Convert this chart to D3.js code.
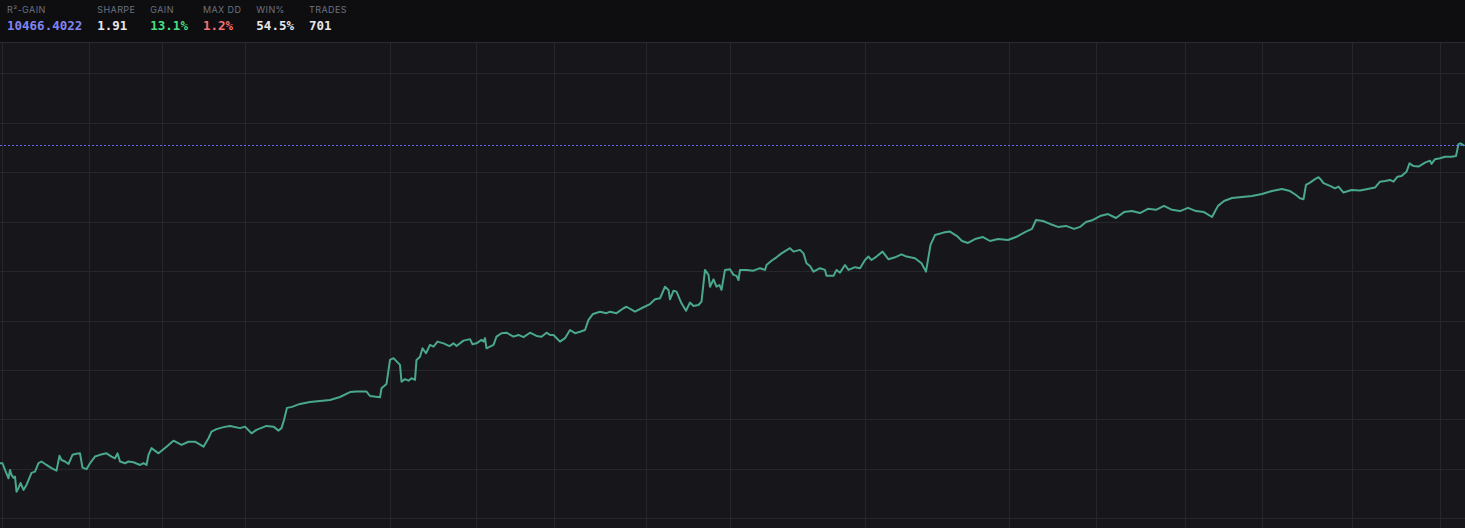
<!DOCTYPE html>
<html>
<head>
<meta charset="utf-8">
<script src="https://cdn.jsdelivr.net/npm/d3@7/dist/d3.min.js"></script>
<style>
  html, body { margin: 0; padding: 0; background: #16161b; overflow: hidden; }
  svg { display: block; }
</style>
</head>
<body>
<svg id="chart" width="1465" height="528"></svg>
<script>
// ---- header stats ----
const statLabels = ["R²-GAIN", "SHARPE", "GAIN", "MAX DD", "WIN%", "TRADES"];
const statValues = ["10466.4022", "1.91", "13.1%", "1.2%", "54.5%", "701"];
const statColors = ["#8184f0", "#e6e7ea", "#4ade80", "#f87171", "#e6e7ea", "#e6e7ea"];

// ---- equity curve: day index vs cumulative gain (%) ----
const days = [0,0.5,1.0,1.7,2.0,2.3,2.7,3.0,3.3,3.7,4.1,4.7,5.3,6.3,7.0,7.7,8.3,9.3,10.3,11.3,11.9,12.3,13.0,13.7,14.5,15.3,16.0,16.5,17.3,18.0,19.0,20.0,21.3,22.3,23.0,23.5,24.0,25.0,25.7,26.7,28.0,28.7,29.3,29.7,30.3,31.7,33.3,34.7,36.3,37.7,39.0,40.7,41.7,42.3,43.3,44.7,46.0,48.0,49.0,50.3,51.3,53.3,54.7,55.7,56.3,56.8,57.4,58.4,60.0,62.0,64.0,66.0,68.0,70.0,71.3,73.3,74.0,76.0,76.3,77.3,78.0,78.7,80.0,80.3,81.0,81.7,82.3,83.0,83.3,84.0,84.5,85.2,86.0,86.7,87.5,88.7,89.9,90.7,91.3,92.7,94.0,94.5,95.3,96.3,96.7,97.0,97.3,98.0,98.7,99.3,100.3,101.3,102.7,103.7,104.7,106.0,107.3,108.3,109.3,110.0,110.7,112.0,113.0,114.0,115.0,116.0,117.0,117.7,118.6,120.0,121.3,122.0,123.3,124.7,125.3,127.0,128.7,130.0,131.0,132.0,133.0,133.7,134.0,134.7,135.3,136.3,137.2,138.0,138.7,139.7,140.3,141.0,141.7,142.0,142.7,143.3,143.9,144.3,145.0,146.0,146.7,147.3,147.7,148.0,149.3,150.7,152.0,153.0,153.3,154.3,155.3,156.3,158.0,158.7,160.0,160.7,161.3,162.0,162.7,164.0,165.0,165.3,166.7,167.3,168.0,169.0,169.7,171.0,172.0,173.0,173.7,174.3,175.3,176.5,177.7,179.0,180.3,181.3,183.0,184.3,185.2,186.1,187.0,188.7,190.0,191.4,192.4,193.6,195.0,196.6,198.0,199.6,201.6,203.2,205.0,206.4,207.2,208.6,210.0,211.6,213.2,214.8,216.0,217.2,218.6,220.0,221.6,223.2,224.8,226.4,228.0,229.6,231.2,232.8,234.4,236.0,237.6,239.2,240.8,242.4,243.6,244.8,246.4,248.4,250.4,252.4,254.4,256.4,258.0,259.2,260.0,260.7,261.2,262.0,263.0,263.7,264.1,264.7,266.0,267.0,267.7,268.7,270.3,272.0,273.3,275.0,276.0,277.0,278.0,278.7,279.5,280.3,281.3,281.9,282.7,283.7,285.0,286.0,286.3,287.0,288.0,289.0,290.3,291.2,291.7,292.1,292.7];
const gain = [0.23,0.23,-0.04,-0.38,-0.04,-0.24,-0.36,-0.31,-0.92,-0.77,-0.57,-0.85,-0.65,-0.16,-0.11,0.23,0.30,0.16,0.03,-0.07,0.53,0.36,0.30,0.20,0.57,0.61,0.63,0.05,-0.01,0.23,0.50,0.57,0.63,0.50,0.43,0.63,0.30,0.23,0.30,0.27,0.16,0.23,0.16,0.57,0.84,0.63,0.90,1.14,0.97,1.10,1.10,0.90,1.24,1.51,1.61,1.69,1.74,1.65,1.71,1.44,1.58,1.74,1.71,1.55,1.65,1.98,2.47,2.51,2.63,2.71,2.75,2.79,2.91,3.11,3.13,3.13,2.95,2.90,3.26,3.44,4.41,4.48,4.21,3.53,3.63,3.57,3.67,3.60,4.41,4.54,4.88,4.68,5.02,4.95,5.15,5.08,4.97,5.08,4.97,5.19,5.25,5.04,5.08,5.22,5.15,5.29,4.88,4.95,5.02,5.35,5.49,5.51,5.35,5.42,5.33,5.51,5.38,5.35,5.51,5.42,5.42,5.15,5.29,5.62,5.49,5.55,5.62,6.03,6.27,6.36,6.30,6.36,6.30,6.50,6.56,6.36,6.54,6.67,6.86,6.90,7.37,7.24,6.86,7.21,7.17,6.70,6.40,6.73,6.59,6.63,6.77,8.05,7.85,7.37,7.67,7.37,7.44,7.24,8.05,8.08,7.85,7.81,7.64,8.05,8.05,8.02,8.12,8.05,8.25,8.42,8.56,8.72,8.93,8.79,8.86,8.72,8.32,8.21,7.98,8.12,8.05,7.81,7.81,8.05,7.94,8.25,8.05,8.16,8.12,8.45,8.59,8.45,8.59,8.79,8.48,8.56,8.68,8.59,8.52,8.32,7.98,9.06,9.46,9.56,9.60,9.42,9.22,9.14,9.30,9.38,9.22,9.30,9.26,9.38,9.58,9.71,10.07,10.03,9.91,9.79,9.83,9.71,9.79,9.99,10.07,10.23,10.31,10.15,10.39,10.43,10.35,10.52,10.48,10.64,10.48,10.43,10.56,10.43,10.39,10.19,10.64,10.84,10.96,11.00,11.04,11.12,11.24,11.32,11.24,11.08,10.95,10.91,11.49,11.58,11.72,11.80,11.72,11.56,11.45,11.35,11.42,11.18,11.28,11.26,11.31,11.38,11.62,11.65,11.69,11.62,11.82,11.85,12.02,12.36,12.25,12.23,12.39,12.47,12.34,12.53,12.57,12.63,12.63,12.66,13.14,13.17,13.10];

// time grid (day index) and value grid (gain %)
const xTicks = [0.4,17.8,32.4,49,78,95.2,110.8,129.2,146,173,201.8,219.2,237,252.4,270.4,288];
const yTicks = [-2,0,2,4,6,8,10,12,14,16];
const dayDomain = [0, 293];
const gainDomain = [-2.39, 17.27];
const finalGain = 13.10;

// ---- layout ----
const W = 1465, H = 528, headerH = 42;
const svg = d3.select("#chart");

const x = d3.scaleLinear().domain(dayDomain).range([0, W]);
const y = d3.scaleLinear().domain(gainDomain).range([H, headerH]);

// plot background
svg.append("rect").attr("x", 0).attr("y", headerH).attr("width", W).attr("height", H - headerH).attr("fill", "#16161b");

// grid
const grid = svg.append("g");
grid.selectAll("line.h").data(yTicks).join("line")
  .attr("class", "h")
  .attr("x1", 0).attr("x2", W)
  .attr("y1", d => Math.round(y(d)) + 0.5).attr("y2", d => Math.round(y(d)) + 0.5)
  .attr("stroke", "#26262c").attr("stroke-width", 1);
grid.selectAll("line.v").data(xTicks).join("line")
  .attr("class", "v")
  .attr("y1", headerH).attr("y2", H)
  .attr("x1", d => Math.round(x(d)) + 0.5).attr("x2", d => Math.round(x(d)) + 0.5)
  .attr("stroke", "#26262c").attr("stroke-width", 1);

// last-value dotted line
svg.append("line")
  .attr("x1", 0).attr("x2", W)
  .attr("y1", Math.round(y(finalGain)) + 0.5).attr("y2", Math.round(y(finalGain)) + 0.5)
  .attr("stroke", "#6366f1").attr("stroke-width", 1).attr("stroke-dasharray", "2,2");

// equity line
const pts = days.map((d, i) => [d, gain[i]]);
const line = d3.line().x(d => x(d[0])).y(d => y(d[1]));
svg.append("path")
  .datum(pts)
  .attr("d", line)
  .attr("fill", "none")
  .attr("stroke", "#4aa98a")
  .attr("stroke-width", 2)
  .attr("stroke-linejoin", "round")
  .attr("stroke-linecap", "round");

// header
svg.append("rect").attr("x", 0).attr("y", 0).attr("width", W).attr("height", headerH).attr("fill", "#0e0e11");
svg.append("line").attr("x1", 0).attr("x2", W).attr("y1", headerH + 0.5).attr("y2", headerH + 0.5)
  .attr("stroke", "#2a2a30").attr("stroke-width", 1);

const header = svg.append("g");
let cx = 7;
statLabels.forEach((lab, i) => {
  const g = header.append("g");
  const t1 = g.append("text")
    .attr("x", cx).attr("y", 12.5)
    .attr("font-family", "Inter, 'Noto Sans', sans-serif")
    .attr("font-size", 9).attr("letter-spacing", "0.4px")
    .attr("fill", "#6b7280")
    .text(lab);
  const t2 = g.append("text")
    .attr("x", cx).attr("y", 30)
    .attr("font-family", "'DejaVu Sans Mono', monospace")
    .attr("font-weight", "bold")
    .attr("font-size", 12.5)
    .attr("fill", statColors[i])
    .text(statValues[i]);
  const w = Math.max(t1.node().getComputedTextLength(), t2.node().getComputedTextLength());
  cx += w + 15;
});
</script>
</body>
</html>
